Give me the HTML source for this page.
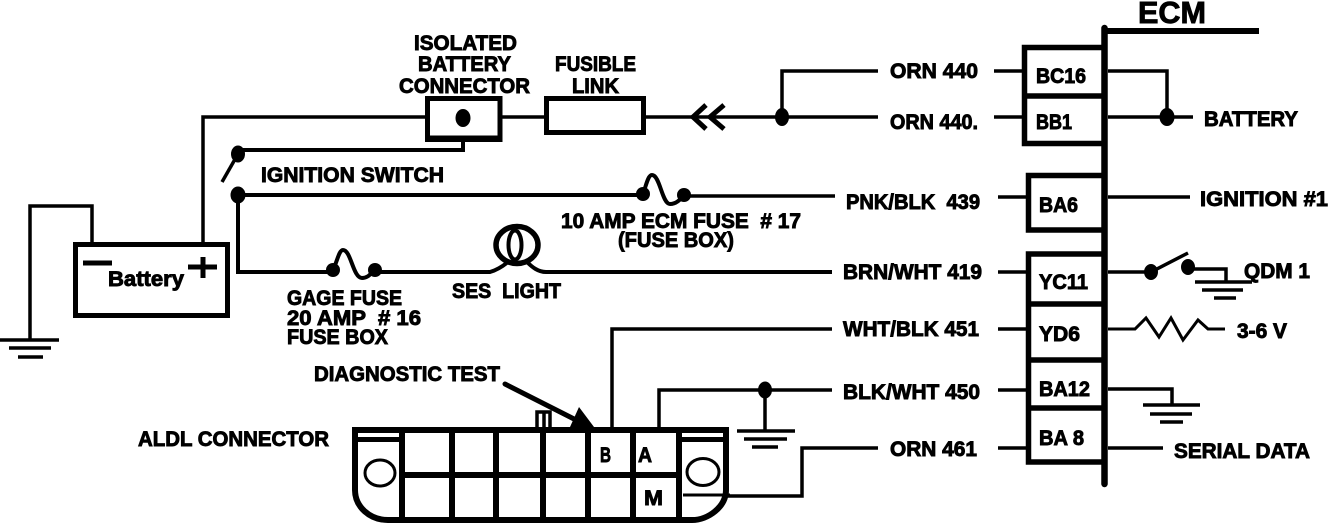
<!DOCTYPE html>
<html><head><meta charset="utf-8"><style>
html,body{margin:0;padding:0;background:#fff}
svg{display:block}
text{font-family:"Liberation Sans",sans-serif;font-weight:bold;fill:#000;stroke:#000;stroke-width:.9;white-space:pre}
</style></head><body>
<svg width="1344" height="524" viewBox="0 0 1344 524" xmlns="http://www.w3.org/2000/svg">
<g fill="none" stroke="#000" stroke-width="3.5" stroke-linejoin="miter">
<!-- battery & ground -->
<path d="M30 340V206H92V243"/>
<path d="M203 245V117H428"/>
<rect x="75.5" y="244.5" width="152" height="71" stroke-width="5"/>
<path d="M83 263H112M188 267H217M203 257V278" stroke-width="5"/>
<path d="M0 340H59M9 348H51M18 357H43" stroke-width="3.5"/>
<!-- isolated connector / fusible link -->
<rect x="427.5" y="98.5" width="72.5" height="41" stroke-width="5"/>
<path d="M427 138.500H501" stroke-width="6"/>
<path d="M500 117H546"/>
<rect x="546.500" y="98.500" width="97" height="34" stroke-width="5"/>
<path d="M644 117H878"/>
<path d="M706 105L693 117L706 129M724 105L710 117L724 129" stroke-width="5"/>
<path d="M782 117V71H878"/>
<path d="M994 71H1024M994 117H1024"/>
<!-- ignition -->
<path d="M463 141V150H238" stroke-width="4"/>
<path d="M238 154L222 182" stroke-width="3.500"/>
<path d="M238 195H643" stroke-width="4"/>
<path d="M238 195V272H333" stroke-width="4"/>
<path d="M333 270C337 262 339 250 343 250C351 250 353 278 362 278C368 278 370 274 375 270" stroke-width="4"/>
<path d="M375 272H490C497 270 503 266 508 262M527 262C532 267 538 272 546 272H832" stroke-width="4"/>
<ellipse cx="517" cy="245" rx="21" ry="18.500" stroke-width="5.500"/>
<ellipse cx="515" cy="245" rx="6.500" ry="14.500" stroke-width="4"/>
<path d="M643 194C646 186 648 175 652 175C660 175 662 204 670 204C676 204 680 200 684 195" stroke-width="4"/>
<path d="M684 196H835M998 197H1026M1108 197H1190"/>
<!-- ECM spine -->
<path d="M1104.500 28V484" stroke-width="6.500" stroke-linecap="round"/>
<path d="M1102 31H1259" stroke-width="6"/>
<!-- ECM boxes -->
<path d="M1103 47.500H1024.500V143.500H1103M1024 96H1103" stroke-width="5.500"/>
<path d="M1103 175.500H1028.500V230H1103" stroke-width="5.500"/>
<path d="M1103 254H1028.500V462H1103" stroke-width="5.500"/>
<path d="M1028 304H1103M1028 360H1103M1028 408H1103" stroke-width="5.500"/>
<!-- ECM right side -->
<path d="M1108 71H1167V117M1108 117H1193"/>
<path d="M1108 272H1151L1188 253" stroke-width="3.500"/>
<path d="M1188 269H1226V282"/>
<path d="M1195 282H1252M1202 290H1243M1214 298H1236"/>
<path d="M1108 329H1135L1146 318L1159 337L1171 318L1183 340L1198 320L1208 329H1225" stroke-width="3"/>
<path d="M1108 389H1172V405M1143 405H1200M1150 414H1192M1160 422H1183"/>
<path d="M1108 448H1163"/>
<!-- left wires of lower pins -->
<path d="M998 272H1028M998 329H1028M998 390H1028M998 448H1028"/>
<path d="M612 428V329H832"/>
<path d="M659 428V390H832"/>
<path d="M765 390V431"/>
<path d="M737 431H795M744 439H787M752 447H778"/>
<path d="M878 448H802V496H725"/>
<!-- ALDL connector -->
<path d="M355 430H726V490C726 507 708 520 692 520H388C370 520 355 507 355 490Z" stroke-width="6"/>
<path d="M402 430V518M452 430V518M496 430V518M543 430V518M588 430V518M633 430V518M679 430V518" stroke-width="6"/>
<path d="M402 475H679" stroke-width="6"/>
<path d="M354 439.500H402M679 439.500H726" stroke-width="5"/>
<ellipse cx="380" cy="473" rx="15" ry="13" stroke-width="3"/>
<ellipse cx="703" cy="472" rx="16" ry="13.500" stroke-width="3"/>
<path d="M683 495H730" stroke-width="3"/>
<path d="M537 427V412H550V427M544 412V427" stroke-width="3.500"/>
<path d="M505 384L578 421" stroke-width="5" stroke-linecap="round"/>
</g>
<g fill="#000">
<polygon points="579,407 570,427 594,427"/>
<ellipse cx="463" cy="118" rx="7.500" ry="9"/>
<ellipse cx="782" cy="117" rx="7" ry="9"/>
<ellipse cx="1167" cy="117" rx="7.500" ry="9"/>
<ellipse cx="238" cy="154" rx="7" ry="8.500"/>
<ellipse cx="238" cy="195" rx="7.500" ry="8.500"/>
<circle cx="333" cy="270" r="7"/>
<circle cx="375" cy="270" r="7"/>
<circle cx="643" cy="194" r="7"/>
<circle cx="684" cy="195" r="7"/>
<ellipse cx="1151" cy="272" rx="7" ry="8"/>
<ellipse cx="1188" cy="267" rx="7" ry="8"/>
<ellipse cx="765" cy="390" rx="7" ry="8.500"/>
</g>
<g font-size="21">
<text x="414" y="50" textLength="103" lengthAdjust="spacingAndGlyphs">ISOLATED</text>
<text x="418" y="71" textLength="93" lengthAdjust="spacingAndGlyphs">BATTERY</text>
<text x="399" y="93" textLength="131" lengthAdjust="spacingAndGlyphs">CONNECTOR</text>
<text x="555" y="71" textLength="81" lengthAdjust="spacingAndGlyphs">FUSIBLE</text>
<text x="572" y="93" textLength="47" lengthAdjust="spacingAndGlyphs">LINK</text>
<text x="261" y="182" textLength="183" lengthAdjust="spacingAndGlyphs">IGNITION SWITCH</text>
<text x="561" y="228" textLength="240" lengthAdjust="spacingAndGlyphs">10 AMP ECM FUSE  # 17</text>
<text x="618" y="247" textLength="116" lengthAdjust="spacingAndGlyphs">(FUSE BOX)</text>
<text x="890" y="78" textLength="88" lengthAdjust="spacingAndGlyphs">ORN 440</text>
<text x="890" y="129" textLength="88" lengthAdjust="spacingAndGlyphs">ORN 440.</text>
<text x="1036" y="83" textLength="50" lengthAdjust="spacingAndGlyphs">BC16</text>
<text x="1036" y="129" textLength="36" lengthAdjust="spacingAndGlyphs">BB1</text>
<text x="1204" y="126" textLength="94" lengthAdjust="spacingAndGlyphs">BATTERY</text>
<text x="846" y="209" textLength="134" lengthAdjust="spacingAndGlyphs">PNK/BLK  439</text>
<text x="1039" y="212" textLength="39" lengthAdjust="spacingAndGlyphs">BA6</text>
<text x="1200" y="206" textLength="128" lengthAdjust="spacingAndGlyphs">IGNITION #1</text>
<text x="843" y="279" textLength="139" lengthAdjust="spacingAndGlyphs">BRN/WHT 419</text>
<text x="1039" y="289" textLength="49" lengthAdjust="spacingAndGlyphs">YC11</text>
<text x="1244" y="278" textLength="66" lengthAdjust="spacingAndGlyphs">QDM 1</text>
<text x="843" y="336" textLength="136" lengthAdjust="spacingAndGlyphs">WHT/BLK 451</text>
<text x="1039" y="341" textLength="41" lengthAdjust="spacingAndGlyphs">YD6</text>
<text x="1237" y="338" textLength="50" lengthAdjust="spacingAndGlyphs">3-6 V</text>
<text x="843" y="399" textLength="137" lengthAdjust="spacingAndGlyphs">BLK/WHT 450</text>
<text x="1039" y="396" textLength="51" lengthAdjust="spacingAndGlyphs">BA12</text>
<text x="890" y="456" textLength="87" lengthAdjust="spacingAndGlyphs">ORN 461</text>
<text x="1039" y="445" textLength="45" lengthAdjust="spacingAndGlyphs">BA 8</text>
<text x="1174" y="458" textLength="136" lengthAdjust="spacingAndGlyphs">SERIAL DATA</text>
<text x="287" y="305" textLength="115" lengthAdjust="spacingAndGlyphs">GAGE FUSE</text>
<text x="287" y="325" textLength="134" lengthAdjust="spacingAndGlyphs">20 AMP  # 16</text>
<text x="287" y="344" textLength="101" lengthAdjust="spacingAndGlyphs">FUSE BOX</text>
<text x="452" y="298" textLength="109" lengthAdjust="spacingAndGlyphs">SES  LIGHT</text>
<text x="314" y="381" textLength="186" lengthAdjust="spacingAndGlyphs">DIAGNOSTIC TEST</text>
<text x="138" y="446" textLength="191" lengthAdjust="spacingAndGlyphs">ALDL CONNECTOR</text>
<text x="108" y="286" textLength="76" lengthAdjust="spacingAndGlyphs">Battery</text>
<text x="600" y="462" textLength="11" lengthAdjust="spacingAndGlyphs">B</text>
<text x="638" y="462" textLength="14" lengthAdjust="spacingAndGlyphs">A</text>
<text x="644" y="505" textLength="19" lengthAdjust="spacingAndGlyphs">M</text>
</g>
<text x="1138" y="23" font-size="31" textLength="68" lengthAdjust="spacingAndGlyphs">ECM</text>
</svg>
</body></html>
